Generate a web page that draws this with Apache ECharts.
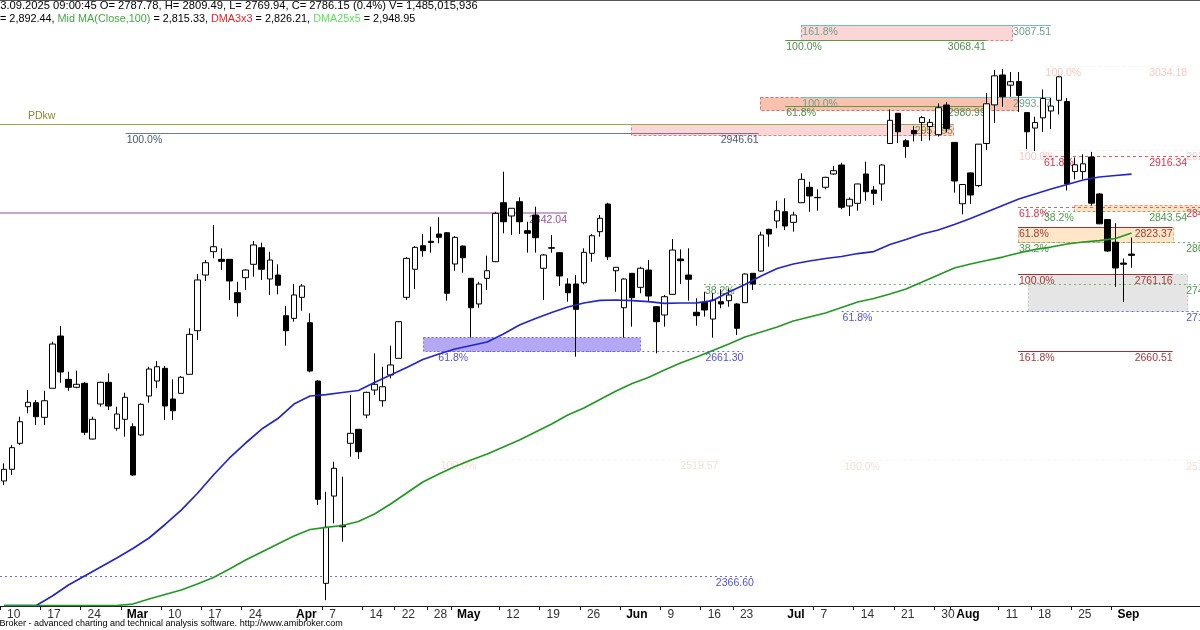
<!DOCTYPE html>
<html><head><meta charset="utf-8">
<script src="https://cdn.jsdelivr.net/npm/echarts@6/dist/echarts.min.js"></script>
<style>html,body{margin:0;padding:0;background:#fff;overflow:hidden}#c{width:1200px;height:630px}</style>
</head><body><div id="c"></div>
<script>
// ---- trading days (2025), WIG20-style daily bars ----
const dates = [
'02-10','02-11','02-12','02-13','02-14','02-17','02-18','02-19','02-20','02-21','02-24','02-25','02-26','02-27','02-28',
'03-03','03-04','03-05','03-06','03-07','03-10','03-11','03-12','03-13','03-14','03-17','03-18','03-19','03-20','03-21','03-24','03-25','03-26','03-27','03-28','03-31',
'04-01','04-02','04-03','04-04','04-07','04-08','04-09','04-10','04-11','04-14','04-15','04-16','04-17','04-22','04-23','04-24','04-25','04-28','04-29','04-30',
'05-02','05-05','05-06','05-07','05-08','05-09','05-12','05-13','05-14','05-15','05-16','05-19','05-20','05-21','05-22','05-23','05-26','05-27','05-28','05-29','05-30',
'06-02','06-03','06-04','06-05','06-06','06-09','06-10','06-11','06-12','06-13','06-16','06-17','06-18','06-20','06-23','06-24','06-25','06-26','06-27','06-30',
'07-01','07-02','07-03','07-04','07-07','07-08','07-09','07-10','07-11','07-14','07-15','07-16','07-17','07-18','07-21','07-22','07-23','07-24','07-25','07-30','07-31',
'08-01','08-04','08-05','08-06','08-07','08-08','08-11','08-12','08-13','08-14','08-18','08-19','08-20','08-21','08-22','08-25','08-26','08-27','08-28','08-29',
'09-01','09-02','09-03'];
const blankSlots = ['b1','b2','b3','b4','b5','b6','b7','b8'];

const opens = [2490.9,2506.2,2540.2,2588.1,2593.3,2574.2,2612.2,2680.6,2623.9,2613.5,2618.7,2545.8,2591.6,2620.0,2559.8,2571.6,2561.9,2551.1,2602.1,2621.7,
2638.3,2598.2,2605.6,2630.5,2687.5,2760.4,2790.9,2780.9,2780.9,2737.2,2756.9,2774.4,2796.1,2755.2,2760.4,2707.2,2703.7,2731.2,2698.0,2621.7,
2357.0,2471.2,2433.0,2540.2,2558.5,2577.2,2609.9,2595.9,2629.6,2651.4,2731.2,2767.9,2798.7,2804.5,2814.0,2815.7,2774.8,2798.3,2756.1,2722.5,
2756.1,2777.8,2855.0,2837.6,2856.3,2818.4,2838.9,2769.2,2796.1,2789.6,2748.6,2748.6,2750.3,2788.8,2817.1,2853.3,2766.0,2717.6,2762.6,2744.3,
2766.9,2718.9,2708.1,2735.1,2781.3,2760.4,2711.6,2724.7,2702.8,2725.5,2726.8,2722.5,2724.2,2762.6,2765.6,2820.2,2831.1,2843.2,2829.3,2855.0,
2875.2,2862.0,2875.2,2892.6,2904.3,2850.7,2854.2,2892.6,2871.6,2879.5,2932.5,2972.0,2936.1,2949.6,2959.9,2954.7,2944.0,2982.8,2933.9,2853.6,
2894.0,2877.4,2932.5,2983.0,3022.1,3008.8,3013.6,2972.9,2952.7,2966.0,2975.0,2989.0,2987.4,2895.8,2895.7,2914.8,2866.4,2832.9,2803.3,2776.0,2787.78];
const highs = [2514.0,2537.9,2575.0,2609.9,2596.8,2609.0,2673.1,2693.7,2633.9,2635.2,2620.4,2575.0,2620.8,2631.8,2588.1,2606.4,2566.4,2592.5,2640.4,2647.9,
2641.4,2624.0,2628.3,2690.7,2761.7,2780.0,2825.8,2795.3,2781.3,2751.6,2768.0,2804.9,2802.7,2790.9,2774.4,2719.8,2748.6,2748.6,2710.3,2623.0,
2476.9,2516.1,2496.5,2603.4,2558.9,2607.7,2657.9,2640.4,2667.9,2700.2,2784.0,2798.3,2814.0,2823.6,2835.9,2816.7,2811.4,2799.0,2756.5,2751.6,
2785.7,2843.2,2895.6,2848.0,2862.1,2830.1,2849.8,2787.9,2812.7,2790.5,2756.1,2760.4,2795.3,2814.0,2838.9,2855.0,2770.9,2756.1,2763.0,2771.3,
2780.0,2719.8,2734.3,2807.5,2794.0,2795.3,2729.9,2738.5,2736.5,2741.7,2742.7,2723.8,2762.6,2763.0,2817.1,2821.0,2857.6,2860.8,2843.2,2893.5,
2882.5,2872.5,2889.0,2903.0,2907.3,2862.1,2880.0,2908.6,2876.9,2905.6,2977.0,2972.4,2938.4,2955.6,2968.6,2964.5,2984.8,2987.0,2934.4,2879.5,
2894.5,2931.8,2998.5,3028.6,3029.9,3026.0,3026.0,2973.0,2967.5,3003.1,2992.0,3021.0,2992.0,2914.2,2918.3,2921.5,2867.7,2833.7,2828.2,2782.0,2809.49];
const lows = [2485.6,2498.7,2537.9,2579.5,2564.1,2564.1,2612.2,2619.5,2609.0,2612.2,2551.1,2545.2,2588.1,2583.8,2556.7,2548.8,2497.5,2550.0,2593.3,2612.2,
2570.7,2570.7,2605.6,2630.5,2675.4,2752.6,2782.3,2766.9,2727.7,2705.9,2740.8,2758.2,2753.9,2734.3,2735.1,2667.9,2699.3,2713.7,2633.0,2459.5,
2335.0,2435.5,2411.5,2522.7,2519.6,2572.9,2603.4,2588.1,2625.2,2651.4,2727.7,2742.1,2784.3,2789.6,2801.9,2726.8,2766.0,2763.4,2678.4,2717.6,
2740.8,2777.4,2814.9,2812.7,2814.0,2789.6,2789.6,2727.7,2789.6,2746.0,2725.5,2653.5,2748.2,2777.8,2810.5,2780.0,2738.5,2678.4,2692.8,2736.5,
2725.5,2657.9,2692.8,2734.3,2748.6,2726.8,2694.1,2705.9,2678.4,2716.8,2718.9,2681.9,2723.8,2740.8,2765.0,2797.4,2821.5,2819.3,2817.1,2854.6,
2843.2,2844.5,2872.5,2891.3,2846.4,2837.6,2844.5,2857.6,2852.0,2857.6,2931.8,2933.1,2913.8,2935.1,2935.5,2936.5,2941.6,2946.9,2868.2,2839.8,
2853.6,2875.5,2924.0,2959.2,2980.2,2993.6,2973.7,2925.3,2922.7,2947.8,2951.4,2970.5,2871.0,2885.6,2885.6,2851.3,2826.9,2790.5,2744.7,2725.1,2769.94];
const closes = [2506.2,2534.5,2568.5,2593.9,2575.0,2595.9,2670.1,2633.5,2613.5,2617.4,2554.6,2571.6,2620.0,2589.0,2578.5,2600.4,2498.7,2591.2,2637.4,2640.4,
2589.0,2582.8,2626.6,2682.8,2753.9,2776.5,2797.4,2778.3,2752.6,2724.2,2766.9,2799.7,2767.9,2780.0,2747.0,2687.5,2734.3,2746.0,2634.8,2466.9,
2430.3,2507.5,2431.0,2553.3,2529.2,2606.9,2617.4,2614.2,2642.7,2699.3,2782.2,2796.6,2792.2,2803.0,2809.7,2736.5,2809.7,2783.0,2717.6,2748.6,
2766.0,2841.1,2830.1,2847.7,2830.1,2815.0,2809.2,2786.6,2795.5,2759.1,2737.2,2715.5,2790.1,2811.8,2834.6,2784.3,2770.5,2755.2,2730.7,2769.2,
2732.9,2699.3,2732.0,2793.1,2779.1,2754.8,2707.2,2714.6,2727.7,2722.5,2734.3,2690.7,2761.7,2748.6,2812.7,2814.0,2844.5,2824.5,2838.9,2885.6,
2863.8,2861.5,2888.2,2896.9,2849.0,2859.5,2879.5,2869.4,2867.3,2904.3,2962.8,2947.8,2928.5,2945.2,2966.4,2960.1,2979.3,2952.2,2883.4,2878.8,
2865.1,2931.6,2984.4,3021.0,2993.6,3013.3,2995.3,2947.8,2959.9,2991.3,2981.5,3019.7,2879.5,2904.6,2905.9,2854.4,2827.4,2791.8,2769.6,2774.5,2786.15];

// moving averages at every second bar
const maIdx = [0,2,4,6,8,10,12,14,16,18,20,22,24,26,28,30,32,34,36,38,40,42,44,46,48,50,52,54,56,58,60,62,64,66,68,70,
72,74,76,78,80,82,84,86,88,90,92,94,96,98,100,102,104,106,108,110,112,114,116,118,120,122,124,126,128,130,132,134,136,138,140];
const maBlue = [2328,2328,2328,2340.4,2354.8,2366.6,2378.4,2390.1,2402.6,2416.3,2434.0,2452.9,2474.5,2498.7,2521.0,2540.6,2558.9,2572.6,2591.6,2602.1,
2604.0,2606.7,2609.3,2619.8,2629.6,2639.4,2649.8,2657.0,2663.6,2668.2,2672.7,2683.2,2695.0,2703.5,2711.3,2718.5,2723.8,2727.3,2727.7,2726.8,
2725.7,2723.4,2723.8,2724.0,2727.0,2738.2,2748.0,2759.1,2768.9,2774.8,2778.7,2782.0,2784.6,2788.5,2791.1,2800.3,2806.8,2814.0,2819.3,2826.5,
2834.3,2842.8,2851.3,2859.8,2866.4,2872.9,2878.8,2884.7,2888.6,2890.6,2892.4];
const maGreen = [2328,2328,2328,2328,2328,2328,2328,2328,2329.9,2336.5,2342.4,2348.3,2356.1,2364.6,2375.7,2387.5,2398.0,2408.5,2418.9,2427.4,
2430.1,2432.7,2437.9,2447.7,2460.8,2475.2,2489.6,2500.0,2509.8,2518.4,2526.2,2535.4,2544.5,2555.0,2565.4,2577.2,2586.4,2597.5,2608.6,2618.4,
2626.3,2636.1,2645.2,2653.1,2661.6,2670.1,2679.3,2685.8,2692.4,2700.2,2705.5,2710.7,2717.9,2725.1,2729.7,2735.6,2742.1,2751.2,2760.4,2769.6,
2774.8,2779.4,2783.9,2789.2,2793.8,2797.0,2801.0,2803.6,2805.5,2808.2,2815.3];

// x-axis tick labels
const tickDates  = ['02-10','02-17','02-24','03-03','03-10','03-17','03-24','04-01','04-07','04-14','04-22','04-28','05-02','05-12','05-19','05-26',
'06-02','06-09','06-16','06-23','07-01','07-07','07-14','07-21','07-30','08-01','08-11','08-18','08-25','09-01'];
const tickLabels = ['10','17','24','Mar','10','17','24','Apr','7','14','22','28','May','12','19','26',
'Jun','9','16','23','Jul','7','14','21','30','Aug','11','18','25','Sep'];
const monthNames = ['Mar','Apr','May','Jun','Jul','Aug','Sep'];
const untickedLabels = ['Apr','Jul'];

// drawn studies: zones [low, high, fromBar, toBar, kind]
const zones = [
 [3068.41,3087.51, 99.0,125.2,'pink'],
 [2976.3, 2993.67, 93.9,125.9,'salmon'],
 [2943.6, 2957.95, 77.8,117.8,'pink'],
 [2843.54,2851.5, 132.9,151.5,'orange'],
 [2804.0, 2823.37,125.9,145.1,'peach'],
 [2713.7, 2761.16,127.1,146.9,'gray'],
 [2661.30,2679.7, 52.0, 79.0,'lavender']
];
// levels [price, fromBar, toBar, kind, leftText, rightText, rightTextEndBar]
const levels = [
 [3087.51, 99.0,130.0,'teal','161.8%','3087.51'],
 [3068.41, 97.0,121.9,'green','100.0%','3068.41'],
 [3034.18,129.2,146.9,'faintRed','100.0%','3034.18'],
 [2993.67, 99.0,130.0,'teal','100.0%','2993.67'],
 [2980.99, 97.0,121.9,'green','61.8%','2980.99'],
 [2957.95, -0.5,117.8,'olive','PDkw','2957.95'],
 [2946.61, 15.1, 93.7,'slate','100.0%','2946.61'],
 [2924.06,125.9,151.5,'faintRed','100.0%','2924.06'],
 [2916.34,129.0,151.5,'redDash','61.8%','2916.34',146.9],
 [2849.36,125.9,151.5,'redDash','61.8%','2849.36'],
 [2843.54,129.0,151.5,'greenDot','38.2%','2843.54',146.9],
 [2823.37,125.9,145.1,'darkRed','61.8%','2823.37'],
 [2803.26,125.9,151.5,'greenDot','38.2%','2803.26'],
 [2761.16,125.9,145.1,'darkRed','100.0%','2761.16'],
 [2748.62, 86.9,151.5,'greenDot','38.2%','2748.62'],
 [2713.71,104.0,151.5,'blueDot','61.8%','2713.71'],
 [2661.30, 53.8, 91.8,'blueDot','61.8%','2661.30'],
 [2660.51,125.9,145.1,'darkRed','161.8%','2660.51'],
 [2842.04, -0.5, 69.9,'mauve','','2842.04'],
 [2519.57, 54.1, 88.7,'faintBeige','100.0%','2519.57'],
 [2519.00,104.2,151.5,'faintBeige','100.0%','2519.00'],
 [2366.60, -0.5, 93.1,'blueDot','','2366.60']
];

const headerLine1 = '03.09.2025 09:00:45 O= 2787.78, H= 2809.49, L= 2769.94, C= 2786.15 (0.4%) V= 1,485,015,936';
const headerParts2 = [['k','= 2,892.44, '],['g','Mid MA(Close,100)'],['k',' = 2,815.33, '],['r','DMA3x3'],['k',' = 2,826.21, '],['lg','DMA25x5'],['k',' = 2,948.95']];
const footerText = 'AmiBroker - advanced charting and technical analysis software. http://www.amibroker.com';

// ---- styles ----
const FONT = '"Liberation Sans", Arial, sans-serif';
const ZONE_STYLE = {
  pink:{fill:'#fbd6d6',stroke:'#e77a7a',dash:[3,2]},
  salmon:{fill:'#f9c2ae',stroke:'#e46a6a',dash:[3,2]},
  orange:{fill:'#fde2c4',stroke:'#f09a72',dash:[3,2]},
  peach:{fill:'#fde7c8',stroke:'#efb07e',dash:[3,2]},
  gray:{fill:'#e5e5e5',stroke:'#c4c4c4',dash:[2,2]},
  lavender:{fill:'#b4a7f3',stroke:'#7a6fe2',dash:[2,2]}
};
const LEVEL_STYLE = {
  teal:{line:'#6cc0c0',dash:null,text:'#6f9f8c',w:1},
  green:{line:'#5b9b3c',dash:null,text:'#4e8f4e',w:1},
  faintRed:{line:'#fdeeee',dash:[3,3],text:'#f6c9c9',w:1},
  olive:{line:'#a3a34a',dash:null,text:'#8a8a2a',w:1,above:true},
  slate:{line:'#6a7a96',dash:null,text:'#4c5a72',w:1},
  redDash:{line:'#e65a5a',dash:[3,3],text:'#e0304a',w:1},
  greenDot:{line:'#72b872',dash:[2,3],text:'#4c9a4c',w:1},
  darkRed:{line:'#a33030',dash:null,text:'#a33a3a',w:1},
  blueDot:{line:'#6b6be6',dash:[2,3],text:'#5252dc',w:1},
  mauve:{line:'#c9a3c9',dash:null,text:'#9a4c9a',w:2},
  faintBeige:{line:'#fbf5ef',dash:[3,3],text:'#f1e0d4',w:1}
};

const categories = dates.concat(blankSlots);
const N = categories.length;
const candleData = opens.map((o,i)=>[o, closes[i], lows[i], highs[i]]);
const blueData = maIdx.map((x,i)=>[x, maBlue[i]]);
const greenData = maIdx.map((x,i)=>[x, maGreen[i]]);
const tickSet = {}; tickDates.forEach((d,i)=>tickSet[d]=tickLabels[i]);

function zoneItem(params, api){
  const z = zones[params.dataIndex];
  const a = api.coord([z[2], z[1]]), b = api.coord([z[3], z[0]]);
  const st = ZONE_STYLE[z[4]];
  const x = Math.round(a[0])+0.5, y = Math.round(a[1])+0.5;
  return {type:'rect', shape:{x:x, y:y, width:Math.round(b[0])-Math.round(a[0]), height:Math.round(b[1])-Math.round(a[1])},
    style:{fill:st.fill, stroke:st.stroke, lineWidth:1, lineDash:st.dash}};
}
function levelItem(params, api){
  const L = levels[params.dataIndex];
  const st = LEVEL_STYLE[L[3]];
  const a = api.coord([L[1], L[0]]), b = api.coord([L[2], L[0]]);
  const e = api.coord([L[6] != null ? L[6] : L[2], L[0]]);
  const y = st.w === 2 ? Math.round(a[1]) : Math.round(a[1])+0.5;
  const kids = [{type:'line', shape:{x1:a[0], y1:y, x2:b[0], y2:y}, style:{stroke:st.line, lineWidth:st.w, lineDash:st.dash}}];
  const font = '10.5px ' + FONT;
  if (L[4]) kids.push({type:'text', style:{text:L[4], x:a[0]+(st.above?28:1), y: st.above ? y-3 : y+1.5, fill:st.text, font:font,
      align:'left', verticalAlign: st.above ? 'bottom' : 'top'}});
  if (L[5]) kids.push({type:'text', style:{text:L[5], x:e[0], y:y+1.5, fill:st.text, font:font, align:'right', verticalAlign:'top'}});
  return {type:'group', children:kids};
}

const chart = echarts.init(document.getElementById('c'), null, {renderer:'canvas'});
chart.setOption({
  animation:false,
  backgroundColor:'#ffffff',
  textStyle:{fontFamily:FONT},
  grid:{left:-1, right:-3, top:0, bottom:24, containLabel:false},
  xAxis:[{
    type:'category', data:categories, boundaryGap:true,
    axisLine:{show:true, lineStyle:{color:'#1a1a1a', width:1}},
    axisTick:{show:true, length:4, lineStyle:{color:'#1a1a1a'},
      interval:(i,v)=> tickSet[v] !== undefined && untickedLabels.indexOf(tickSet[v]) < 0},
    axisLabel:{show:true, interval:(i,v)=> tickSet[v] !== undefined, align:'left', margin:3,
      formatter:(v)=>{ const t = tickSet[v]; if (t===undefined) return ''; return monthNames.indexOf(t)>=0 ? '{m|'+t+'}' : '{d|'+t+'}'; },
      rich:{m:{fontWeight:'bold', color:'#000', fontSize:12, fontFamily:FONT, padding:[0,0,0,2]},
            d:{color:'#333', fontSize:12, fontFamily:FONT, padding:[0,0,0,3]}}},
    splitLine:{show:false}
  },{
    type:'value', min:-0.5, max:N-0.5, show:false
  }],
  yAxis:{type:'value', min:2327.34, max:3120.22, show:false, splitLine:{show:false}},
  series:[
    {type:'custom', name:'zones', xAxisIndex:1, yAxisIndex:0, z:1, silent:true,
     renderItem:zoneItem, data:zones.map(z=>[z[2], z[0]])},
    {type:'custom', name:'levels', xAxisIndex:1, yAxisIndex:0, z:2, silent:true,
     renderItem:levelItem, data:levels.map(l=>[l[1], l[0]])},
    {type:'candlestick', name:'WIG20', xAxisIndex:0, z:3, barWidth:6, data:candleData,
     itemStyle:{color:'#ffffff', color0:'#000000', borderColor:'#000000', borderColor0:'#000000', borderWidth:1}},
    {type:'line', name:'MA50', xAxisIndex:0, z:4, data:blueData, showSymbol:false, symbol:'none',
     lineStyle:{color:'#2424cc', width:1.7}},
    {type:'line', name:'Mid MA(Close,100)', xAxisIndex:0, z:4, data:greenData, showSymbol:false, symbol:'none',
     lineStyle:{color:'#1f9a1f', width:1.7}}
  ],
  graphic:[
    {type:'line', shape:{x1:0, y1:0.5, x2:1200, y2:0.5}, style:{stroke:'#555', lineWidth:1}, z:10},
    {type:'text', x:-6, y:0, z:10, style:{text:headerLine1, font:'11.2px '+FONT, fill:'#000'}},
    {type:'text', x:0, y:13, z:10, style:{
      text: headerParts2.map(p=>'{'+p[0]+'|'+p[1]+'}').join(''), font:'10.85px '+FONT,
      rich:{k:{fill:'#000', font:'10.85px '+FONT}, g:{fill:'#45a845', font:'10.85px '+FONT}, r:{fill:'#e02828', font:'10.85px '+FONT}, lg:{fill:'#5ee05e', font:'10.85px '+FONT}}}},
    {type:'text', x:-16, y:619, z:10, style:{text:footerText, font:'9px '+FONT, fill:'#000'}}
  ]
});
</script>
</body></html>
